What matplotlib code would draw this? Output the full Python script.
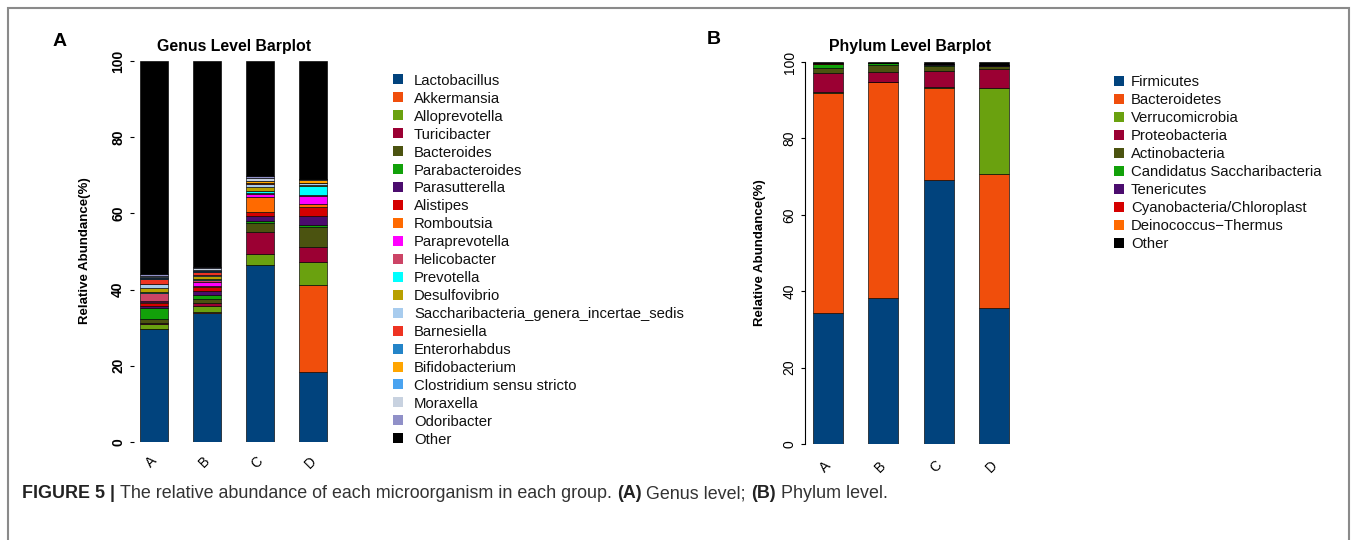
import matplotlib
matplotlib.use("Agg")
import matplotlib.pyplot as plt
from matplotlib.patches import Rectangle
import numpy as np

plt.rcParams["font.family"] = ["Liberation Sans", "DejaVu Sans"]

# ---------------- data ----------------
groups = ["A", "B", "C", "D"]

genus_names = [
    "Lactobacillus", "Akkermansia", "Alloprevotella", "Turicibacter", "Bacteroides",
    "Parabacteroides", "Parasutterella", "Alistipes", "Romboutsia", "Paraprevotella",
    "Helicobacter", "Prevotella", "Desulfovibrio", "Saccharibacteria_genera_incertae_sedis",
    "Barnesiella", "Enterorhabdus", "Bifidobacterium", "Clostridium sensu stricto",
    "Moraxella", "Odoribacter", "Other",
]
genus_colors = [
    "#01437D", "#F04E0C", "#6AA10F", "#9B0033", "#4B5310",
    "#12A10A", "#4B0C6E", "#D50000", "#FF6A00", "#FF00FF",
    "#CC4466", "#00FFFF", "#B8A000", "#A8CCEE",
    "#EE3322", "#2484C8", "#FFA500", "#4AA3F0",
    "#C8D2E0", "#9090C8", "#000000",
]
# relative abundance (%) per genus, columns = groups A..D ("Other" is the remainder)
genus_A = [29.6, 0.0, 1.4, 0.3, 1.0, 3.0, 0.4, 0.9, 0.1, 0.2, 2.2, 0.2, 1.0, 1.1, 1.3, 0.3, 0.1, 0.1, 0.4, 0.4]
genus_B = [33.9, 0.1, 1.75, 0.8, 1.1, 1.05, 0.9, 1.05, 0.2, 1.2, 0.5, 0.2, 0.9, 0.3, 0.8, 0.1, 0.1, 0.2, 0.5, 0.2]
genus_C = [46.5, 0.0, 2.8, 5.9, 2.4, 0.45, 1.3, 1.1, 3.75, 0.9, 0.2, 0.7, 0.9, 0.8, 0.3, 0.1, 0.3, 0.2, 0.8, 0.3]
genus_D = [18.3, 22.9, 6.1, 3.9, 5.1, 0.6, 2.45, 2.4, 0.6, 2.2, 0.3, 2.4, 0.3, 0.3, 0.1, 0.1, 0.6, 0.1, 0.3, 0.1]

phylum_names = [
    "Firmicutes", "Bacteroidetes", "Verrucomicrobia", "Proteobacteria", "Actinobacteria",
    "Candidatus Saccharibacteria", "Tenericutes", "Cyanobacteria/Chloroplast",
    "Deinococcus\u2212Thermus", "Other",
]
phylum_colors = [
    "#01437D", "#F04E0C", "#6AA10F", "#9B0033", "#4B5310",
    "#12A10A", "#4B0C6E", "#D50000", "#FF6A00", "#000000",
]
phylum_A = [34.4, 57.6, 0.1, 5.1, 1.3, 1.0, 0.1, 0.1, 0.1, 0.2]
phylum_B = [38.1, 56.6, 0.1, 2.5, 1.9, 0.5, 0.1, 0.0, 0.0, 0.2]
phylum_C = [69.1, 24.2, 0.1, 4.3, 1.3, 0.3, 0.1, 0.1, 0.0, 0.5]
phylum_D = [35.7, 35.0, 22.6, 4.8, 0.8, 0.1, 0.1, 0.1, 0.0, 0.8]

y_ticks = [0, 20, 40, 60, 80, 100]

# ---------------- figure ----------------
W, H = 1357, 540
fig = plt.figure(figsize=(W / 100, H / 100), dpi=100)


def px_axes(left, top, right, bottom):
    return fig.add_axes([left / W, 1 - bottom / H, (right - left) / W, (bottom - top) / H])


def fx(x):
    return x / W


def fy(y):
    return 1 - y / H


def stacked(ax, table, colors, width):
    x = np.arange(len(groups))
    bottom = np.zeros(len(groups))
    containers = []
    for vals, col in zip(table, colors):
        vals = np.asarray(vals, dtype=float)
        c = ax.bar(x, vals, width, bottom=bottom, color=col, edgecolor="black",
                   linewidth=0.45)
        containers.append(c)
        bottom += vals
    return containers


def genus_table():
    cols = [genus_A, genus_B, genus_C, genus_D]
    rows = [[col[i] for col in cols] for i in range(len(genus_names) - 1)]
    rows.append([100 - sum(col) for col in cols])
    return rows


def phylum_table():
    cols = [phylum_A, phylum_B, phylum_C, phylum_D]
    return [[col[i] for col in cols] for i in range(len(phylum_names))]


def style_axes(ax, bold_ticks, show_spine, tick_dist):
    ax.set_ylim(0, 100)
    ax.set_yticks(y_ticks)
    ax.set_yticklabels([str(t) for t in y_ticks],
                       fontweight="bold" if bold_ticks else "normal",
                       rotation=90, va="center", ha="center", fontsize=10)
    for s in ["top", "right", "bottom"]:
        ax.spines[s].set_visible(False)
    ax.spines["left"].set_visible(show_spine)
    ax.spines["left"].set_bounds(0, 100)
    ax.spines["left"].set_linewidth(0.8)
    ax.tick_params(axis="y", length=3, width=0.8, pad=tick_dist)
    ax.set_xticks(range(len(groups)))
    ax.set_xticklabels([])
    ax.tick_params(axis="x", length=0)
    ax.patch.set_visible(False)


# Panel A: genus level
axA = px_axes(134, 61, 336, 442)
stacked(axA, genus_table(), genus_colors, 0.53)
axA.set_xlim(-0.38, 3.44)
style_axes(axA, True, False, 8.5)
for i, g in enumerate(groups):
    axA.text(i - 0.05, -5.3, g, rotation=45, ha="center", va="center", fontsize=10)

# Panel B: phylum level
axB = px_axes(805, 62, 1025, 444)
stacked(axB, phylum_table(), phylum_colors, 0.54)
axB.set_xlim(-0.416, 3.56)
style_axes(axB, False, True, 8.0)
for i, g in enumerate(groups):
    axB.text(i - 0.05, -6.0, g, rotation=45, ha="center", va="center", fontsize=10)

# titles, axis labels, panel letters
fig.text(fx(234), fy(46), "Genus Level Barplot", ha="center", va="center",
         fontsize=11.4, fontweight="bold")
fig.text(fx(910), fy(46), "Phylum Level Barplot", ha="center", va="center",
         fontsize=11.4, fontweight="bold")
fig.text(fx(85), fy(251), "Relative Abundance(%)", ha="center", va="center",
         rotation=90, fontsize=9.5, fontweight="bold")
fig.text(fx(760), fy(253), "Relative Abundance(%)", ha="center", va="center",
         rotation=90, fontsize=9.5, fontweight="bold")
fig.text(fx(60), fy(41), "A", ha="center", va="center", fontsize=14, fontweight="bold")
fig.text(fx(714), fy(39), "B", ha="center", va="center", fontsize=14, fontweight="bold")


# legends
def draw_legend(names, colors, sq_left, text_left, first_y, step, fontsize):
    for k, (name, col) in enumerate(zip(names, colors)):
        yc = first_y + k * step
        fig.add_artist(Rectangle((fx(sq_left), fy(yc + 5)), 10 / W, 10 / H,
                                 transform=fig.transFigure, facecolor=col,
                                 edgecolor="none"))
        fig.text(fx(text_left), fy(yc), name, ha="left", va="center_baseline",
                 fontsize=fontsize, color="#111111")


draw_legend(genus_names, genus_colors, 393, 414, 79.3, 17.95, 10.7)
draw_legend(phylum_names, phylum_colors, 1114, 1131, 80.7, 18.0, 10.7)

# caption
fig.canvas.draw()
renderer = fig.canvas.get_renderer()
cap_size = 12.9
pieces = [
    ("FIGURE 5 |", "bold", "#222222"),
    ("The relative abundance of each microorganism in each group.", "normal", "#333333"),
    ("(A)", "bold", "#222222"),
    ("Genus level;", "normal", "#333333"),
    ("(B)", "bold", "#222222"),
    ("Phylum level.", "normal", "#333333"),
]
probe1 = fig.text(0, 0, "x x", fontsize=cap_size)
probe2 = fig.text(0, 0, "xx", fontsize=cap_size)
space_px = (probe1.get_window_extent(renderer).width
            - probe2.get_window_extent(renderer).width)
probe1.remove()
probe2.remove()
x_cur = 22.0
for txt, wt, col in pieces:
    t = fig.text(fx(x_cur), fy(492), txt, ha="left", va="center_baseline",
                 fontsize=cap_size, fontweight=wt, color=col)
    x_cur += t.get_window_extent(renderer).width + space_px

# figure frame
fig.add_artist(Rectangle((fx(8), fy(560)), (1349 - 8) / W, (560 - 8) / H,
                         transform=fig.transFigure, fill=False,
                         edgecolor="#8a8a8a", linewidth=1.5))

fig.savefig("out.png", dpi=100)
